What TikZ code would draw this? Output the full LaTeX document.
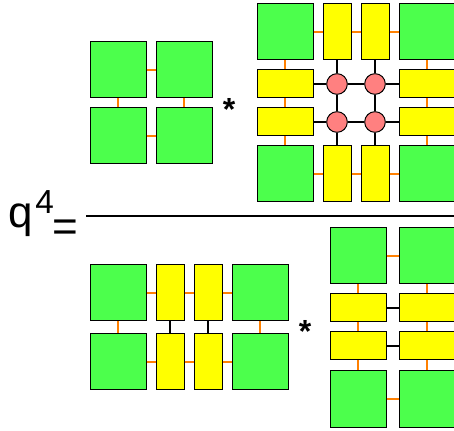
\documentclass[tikz,border=0pt]{standalone}
\usepackage{fontspec}
\setmainfont{Liberation Sans}
\definecolor{cellgreen}{RGB}{76,255,76}
\definecolor{cellyellow}{RGB}{255,255,0}
\definecolor{sitepink}{RGB}{255,128,128}
\definecolor{bondorange}{RGB}{255,128,0}
\begin{document}
\begin{tikzpicture}[x=0.75pt, y=-0.75pt,
    greenbox/.style={draw, rectangle, fill=cellgreen, line width=0.75pt, minimum width=42pt, minimum height=42pt, inner sep=0pt},
    yellowtall/.style={draw, rectangle, fill=cellyellow, line width=0.75pt, minimum width=21pt, minimum height=42pt, inner sep=0pt},
    yellowwide/.style={draw, rectangle, fill=cellyellow, line width=0.75pt, minimum width=42pt, minimum height=21pt, inner sep=0pt},
    site/.style={draw, circle, fill=sitepink, line width=0.75pt, minimum size=15.5pt, inner sep=0pt},
    bond/.style={draw=bondorange, line width=1.9pt},
    link/.style={draw=black, line width=2pt},
    times/.style={anchor=base, inner sep=0pt, font=\fontsize{24pt}{24pt}\selectfont\bfseries}]
    \useasboundingbox (0,0) rectangle (454,431);

    % Left hand side
    \node[anchor=base west, inner sep=0pt] (lhs) at (8,228) {\fontsize{33pt}{33pt}\selectfont q\kern2pt\raisebox{11pt}{\fontsize{25pt}{25pt}\selectfont 4}\kern-1pt\raisebox{-10pt}{=}};

    % Fraction bar
    \coordinate (barL) at (86,216);
    \coordinate (barR) at (454,216);
    \draw[line width=1.5pt] (barL) -- (barR);

    % Numerator: left block
    \node[greenbox] (a11) at (118,70) {};
    \node[greenbox] (a12) at (184,70) {};
    \node[greenbox] (a21) at (118,136) {};
    \node[greenbox] (a22) at (184,136) {};

    \node[times] (mul1) at (229,120.5) {*};

    % Numerator: right block
    \node[greenbox] (b11) at (285,32) {};
    \node[yellowtall] (b12) at (337,32) {};
    \node[yellowtall] (b13) at (375,32) {};
    \node[greenbox] (b14) at (427,32) {};

    \node[yellowwide] (b21) at (285,84) {};
    \node[site] (b22) at (337,84) {};
    \node[site] (b23) at (375,84) {};
    \node[yellowwide] (b24) at (427,84) {};

    \node[yellowwide] (b31) at (285,122) {};
    \node[site] (b32) at (337,122) {};
    \node[site] (b33) at (375,122) {};
    \node[yellowwide] (b34) at (427,122) {};

    \node[greenbox] (b41) at (285,174) {};
    \node[yellowtall] (b42) at (337,174) {};
    \node[yellowtall] (b43) at (375,174) {};
    \node[greenbox] (b44) at (427,174) {};

    % Denominator: left block
    \node[greenbox] (c11) at (118,293) {};
    \node[yellowtall] (c12) at (170,293) {};
    \node[yellowtall] (c13) at (208,293) {};
    \node[greenbox] (c14) at (260,293) {};

    \node[greenbox] (c21) at (118,362) {};
    \node[yellowtall] (c22) at (170,362) {};
    \node[yellowtall] (c23) at (208,362) {};
    \node[greenbox] (c24) at (260,362) {};

    \node[times] (mul2) at (305,342.5) {*};

    % Denominator: right block
    \node[greenbox] (d11) at (358,256) {};
    \node[greenbox] (d12) at (427,256) {};
    \node[yellowwide] (d21) at (358,308) {};
    \node[yellowwide] (d22) at (427,308) {};
    \node[yellowwide] (d31) at (358,346) {};
    \node[yellowwide] (d32) at (427,346) {};
    \node[greenbox] (d41) at (358,399) {};
    \node[greenbox] (d42) at (427,399) {};

    % Connections
    \draw[bond] (a11) -- (a12);
    \draw[bond] (a21) -- (a22);
    \draw[bond] (a11) -- (a21);
    \draw[bond] (a12) -- (a22);

    \draw[bond] (b11) -- (b12);
    \draw[bond] (b12) -- (b13);
    \draw[bond] (b13) -- (b14);
    \draw[bond] (b41) -- (b42);
    \draw[bond] (b42) -- (b43);
    \draw[bond] (b43) -- (b44);
    \draw[bond] (b11) -- (b21);
    \draw[bond] (b21) -- (b31);
    \draw[bond] (b31) -- (b41);
    \draw[bond] (b14) -- (b24);
    \draw[bond] (b24) -- (b34);
    \draw[bond] (b34) -- (b44);

    \draw[link] (b12) -- (b22);
    \draw[link] (b22) -- (b32);
    \draw[link] (b32) -- (b42);
    \draw[link] (b13) -- (b23);
    \draw[link] (b23) -- (b33);
    \draw[link] (b33) -- (b43);
    \draw[link] (b21) -- (b22);
    \draw[link] (b22) -- (b23);
    \draw[link] (b23) -- (b24);
    \draw[link] (b31) -- (b32);
    \draw[link] (b32) -- (b33);
    \draw[link] (b33) -- (b34);

    \draw[bond] (c11) -- (c12);
    \draw[bond] (c12) -- (c13);
    \draw[bond] (c13) -- (c14);
    \draw[bond] (c21) -- (c22);
    \draw[bond] (c22) -- (c23);
    \draw[bond] (c23) -- (c24);
    \draw[bond] (c11) -- (c21);
    \draw[bond] (c14) -- (c24);
    \draw[link] (c12) -- (c22);
    \draw[link] (c13) -- (c23);

    \draw[bond] (d11) -- (d12);
    \draw[bond] (d41) -- (d42);
    \draw[link] (d21) -- (d22);
    \draw[link] (d31) -- (d32);
    \draw[bond] (d11) -- (d21);
    \draw[bond] (d21) -- (d31);
    \draw[bond] (d31) -- (d41);
    \draw[bond] (d12) -- (d22);
    \draw[bond] (d22) -- (d32);
    \draw[bond] (d32) -- (d42);

\end{tikzpicture}
\end{document}
